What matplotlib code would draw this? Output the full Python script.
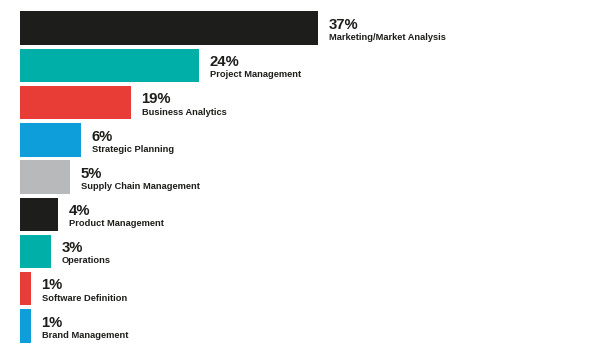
import matplotlib.pyplot as plt

# Data
categories = ['Marketing/Market Analysis', 'Project Management', 'Business Analytics',
              'Strategic Planning', 'Supply Chain Management', 'Product Management',
              'Operations', 'Software Definition', 'Brand Management']
percents = [37, 24, 19, 6, 5, 4, 3, 1, 1]
# drawn bar lengths (the infographic is not to a linear scale)
bar_lengths = [29.8, 17.9, 11.06, 6.13, 4.97, 3.83, 3.07, 1.07, 1.07]
colors = ['#1d1d1b', '#00b0a8', '#e83d36', '#0e9fdb', '#b8b9bb',
          '#1d1d1b', '#00b0a8', '#e83d36', '#0e9fdb']

fig = plt.figure(figsize=(6.01, 3.56), dpi=100)
ax = fig.add_axes([0, 0, 1, 1])

ypos = list(range(len(categories)))
ax.barh(ypos, bar_lengths, height=0.9, color=colors, left=0)

for y, length, pct, name in zip(ypos, bar_lengths, percents, categories):
    ax.text(length + 1.05, y + 0.02, f'{pct}%', fontsize=10.7, fontweight='bold',
            family=['Liberation Sans', 'DejaVu Sans'], color='#1d1d1b', va='baseline', ha='left')
    ax.text(length + 1.1, y + 0.32, name, fontsize=6.7, fontweight='bold',
            family=['Liberation Sans', 'DejaVu Sans'], color='#1d1d1b', va='baseline', ha='left')

ax.set_xlim(-2.0, 58.1)
ax.set_ylim(8.809, -0.758)
ax.axis('off')

plt.savefig('out.png', dpi=100)
